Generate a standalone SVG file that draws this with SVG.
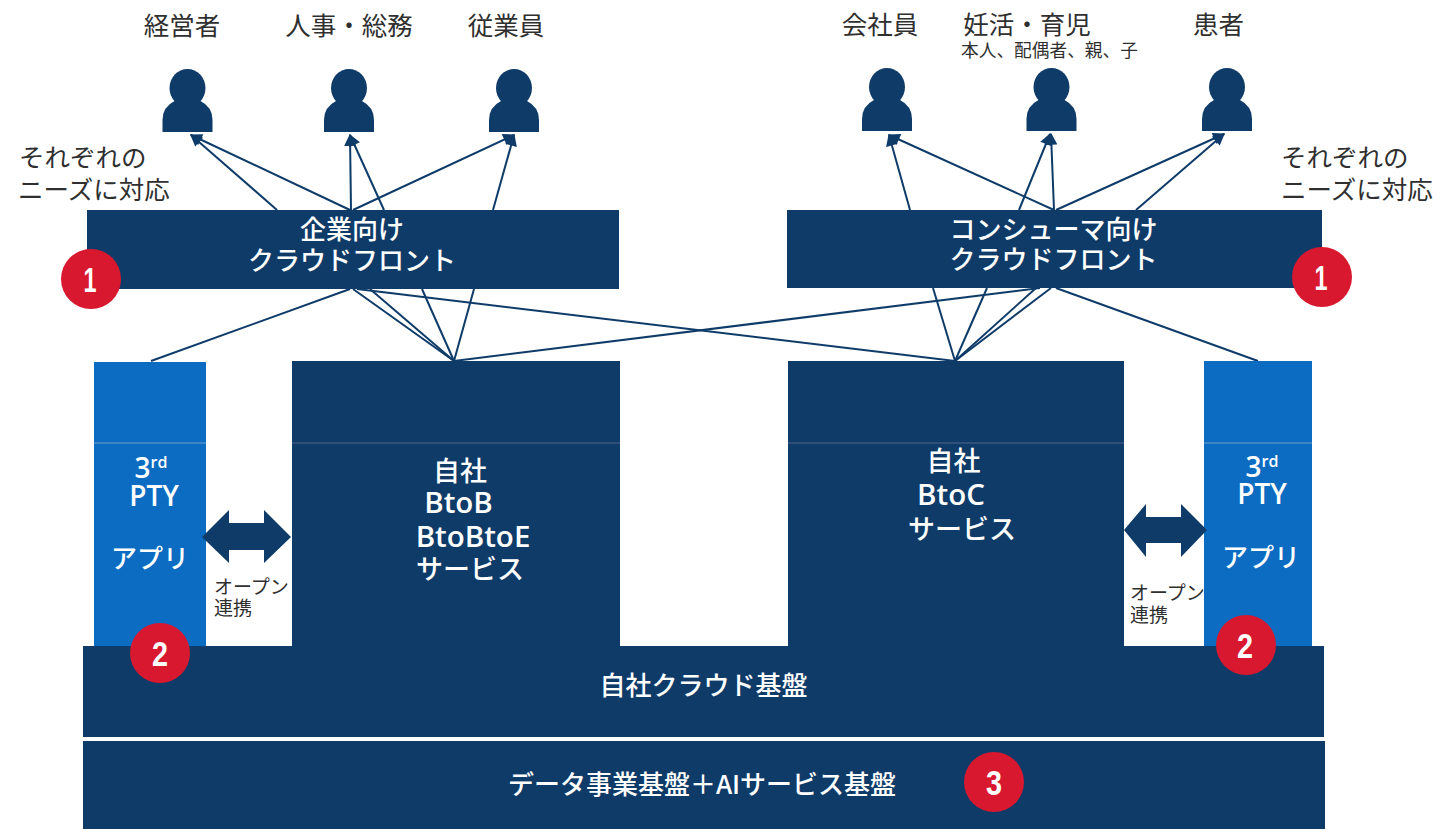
<svg xmlns="http://www.w3.org/2000/svg" width="1450" height="829" viewBox="0 0 1450 829">
<style>
.t{font-family:"Noto Sans CJK JP","Noto Sans",sans-serif}
.k{fill:#2f2f2f;font-size:25.500px;text-anchor:middle}
.n{fill:#2f2f2f;font-size:25.500px}
.w{fill:#fff;font-size:26px;font-weight:500;text-anchor:middle}
.w2{font-size:27px}
.s{fill:#2f2f2f;font-size:17.700px}
.o{fill:#2f2f2f;font-size:19px}
.l{font-family:"Open Sans","Noto Sans",sans-serif;font-weight:600;font-size:28px;fill:#fff;text-anchor:middle}
.l2{font-size:29.500px}
.navy{fill:#0f3b69}
.blue{fill:#0c6cc2}
.red{fill:#d8182e}
.b{font-family:"Liberation Sans",sans-serif;font-weight:700;font-size:35px;fill:#fff;text-anchor:middle}
.sep{stroke:#2f5078;stroke-width:2}
.sepb{stroke:#3a86c9;stroke-width:2}
#connectors line{stroke:#0f3b69;stroke-width:2;fill:none}
</style>
<defs>
<marker id="ah" viewBox="0 0 10 10" refX="9" refY="5" markerWidth="13" markerHeight="12" markerUnits="userSpaceOnUse" orient="auto"><path d="M0 0L10 5L0 10Z" fill="#0f3b69"/></marker>
<g id="person"><ellipse cx="0" cy="88" rx="18" ry="19"/><path d="M-25 132V120Q-25 107 -13 101H13Q25 107 25 120V132Z"/></g>
</defs>
<g id="connectors">
<line x1="277" y1="210" x2="191" y2="135" marker-end="url(#ah)"/>
<line x1="350" y1="210" x2="191" y2="135" marker-end="url(#ah)"/>
<line x1="351" y1="210" x2="350" y2="135" marker-end="url(#ah)"/>
<line x1="384" y1="210" x2="350" y2="135" marker-end="url(#ah)"/>
<line x1="353" y1="210" x2="514" y2="135" marker-end="url(#ah)"/>
<line x1="493" y1="210" x2="514" y2="135" marker-end="url(#ah)"/>
<line x1="910" y1="210" x2="889" y2="135" marker-end="url(#ah)"/>
<line x1="1054" y1="210" x2="889" y2="135" marker-end="url(#ah)"/>
<line x1="1019" y1="210" x2="1050" y2="134" marker-end="url(#ah)"/>
<line x1="1054" y1="210" x2="1051" y2="134" marker-end="url(#ah)"/>
<line x1="1056" y1="210" x2="1224" y2="134" marker-end="url(#ah)"/>
<line x1="1136" y1="210" x2="1224" y2="134" marker-end="url(#ah)"/>
<line x1="350" y1="289" x2="151" y2="361"/>
<line x1="353" y1="289" x2="454" y2="361"/>
<line x1="370" y1="289" x2="454" y2="361"/>
<line x1="422" y1="289" x2="454" y2="361"/>
<line x1="474" y1="289" x2="454" y2="361"/>
<line x1="357" y1="289" x2="955" y2="361"/>
<line x1="933" y1="288" x2="955" y2="361"/>
<line x1="987" y1="288" x2="955" y2="361"/>
<line x1="1036" y1="288" x2="955" y2="361"/>
<line x1="1051" y1="288" x2="955" y2="361"/>
<line x1="1040" y1="288" x2="454" y2="361"/>
<line x1="1056" y1="288" x2="1258" y2="361"/>
</g>
<g id="label-keiei"><use href="#person" x="187.500" class="navy"/><text class="t k" x="182" y="35">経営者</text></g>
<g id="label-jinji"><use href="#person" x="349" class="navy"/><text class="t k" x="349" y="35">人事・総務</text></g>
<g id="label-jugyoin"><use href="#person" x="514" class="navy"/><text class="t k" x="506" y="35">従業員</text></g>
<g id="label-kaisha"><use href="#person" x="887" y="-1" class="navy"/><text class="t k" x="880" y="34">会社員</text></g>
<g id="label-ninkatsu"><use href="#person" x="1051.500" y="-1" class="navy"/><text class="t k" x="1027" y="34">妊活・育児</text><text class="t s" x="961" y="57">本人、配偶者、親、子</text></g>
<g id="label-kanja"><use href="#person" x="1227" y="-1" class="navy"/><text class="t k" x="1218.500" y="34">患者</text></g>
<g id="note-left"><text class="t n" x="19" y="167">それぞれの</text><text class="t n" x="18" y="199">ニーズに対応</text></g>
<g id="note-right"><text class="t n" x="1281" y="167">それぞれの</text><text class="t n" x="1281" y="199">ニーズに対応</text></g>
<g id="front-b"><rect class="navy" x="87" y="210" width="532" height="79"/><text class="t w" x="352" y="239">企業向け</text><text class="t w" x="352" y="270">クラウドフロント</text></g>
<g id="front-c"><rect class="navy" x="787" y="210" width="535" height="78"/><text class="t w" x="1053.500" y="239">コンシューマ向け</text><text class="t w" x="1053.500" y="269">クラウドフロント</text></g>
<g id="app-left"><rect class="blue" x="94" y="362" width="112" height="286"/><line class="sepb" x1="94" y1="443" x2="206" y2="443"/><text class="l" x="151" y="478">3<tspan font-size="16" dy="-10">rd</tspan></text><text class="l" x="154" y="506">PTY</text><text class="t w" x="150" y="568">アプリ</text></g>
<g id="app-right"><rect class="blue" x="1204" y="361" width="108" height="286"/><line class="sepb" x1="1204" y1="443" x2="1312" y2="443"/><text class="l" x="1262" y="477">3<tspan font-size="16" dy="-10">rd</tspan></text><text class="l" x="1262" y="504">PTY</text><text class="t w" x="1261" y="567">アプリ</text></g>
<g id="service-b"><rect class="navy" x="292" y="361" width="328" height="287"/><line class="sep" x1="292" y1="443" x2="620" y2="443"/><text class="t w w2" x="460" y="481" style="font-size:27px">自社</text><text class="l l2" x="458.500" y="513">BtoB</text><text class="l l2" x="473" y="547">BtoBtoE</text><text class="t w w2" x="470" y="579" style="font-size:27px">サービス</text></g>
<g id="service-c"><rect class="navy" x="788" y="361" width="336" height="286"/><line class="sep" x1="788" y1="443" x2="1124" y2="443"/><text class="t w w2" x="953.500" y="471" style="font-size:27px">自社</text><text class="l l2" x="951" y="505">BtoC</text><text class="t w w2" x="962" y="539" style="font-size:27px">サービス</text></g>
<g id="arrow-left"><path class="navy" d="M202 537L229 510V523H264V510L291 537L264 563V550H229V563Z"/><text class="t o" x="214" y="594">オープン</text><text class="t o" x="214" y="615">連携</text></g>
<g id="arrow-right"><path class="navy" d="M1124 530L1146 504V517H1181V504L1207 530L1181 557V543H1146V557Z"/><text class="t o" x="1130" y="600">オープン</text><text class="t o" x="1130" y="622">連携</text></g>
<g id="cloud"><rect class="navy" x="83" y="646" width="1241" height="91"/><text class="t w" x="703.500" y="695">自社クラウド基盤</text></g>
<g id="data"><rect class="navy" x="83" y="741" width="1242" height="88"/><text class="t w" x="702" y="794">データ事業基盤＋AIサービス基盤</text></g>
<g id="badge-1a"><circle class="red" cx="91" cy="279" r="30"/><text class="b" x="90" y="292" textLength="13" lengthAdjust="spacingAndGlyphs">1</text></g>
<g id="badge-1b"><circle class="red" cx="1322" cy="277" r="30"/><text class="b" x="1321" y="290" textLength="13" lengthAdjust="spacingAndGlyphs">1</text></g>
<g id="badge-2a"><circle class="red" cx="160" cy="653" r="30"/><text class="b" x="160" y="666" textLength="16" lengthAdjust="spacingAndGlyphs">2</text></g>
<g id="badge-2b"><circle class="red" cx="1246" cy="645" r="30"/><text class="b" x="1245" y="658" textLength="16" lengthAdjust="spacingAndGlyphs">2</text></g>
<g id="badge-3"><circle class="red" cx="994" cy="782" r="30"/><text class="b" x="994" y="795" textLength="16" lengthAdjust="spacingAndGlyphs">3</text></g>
</svg>
